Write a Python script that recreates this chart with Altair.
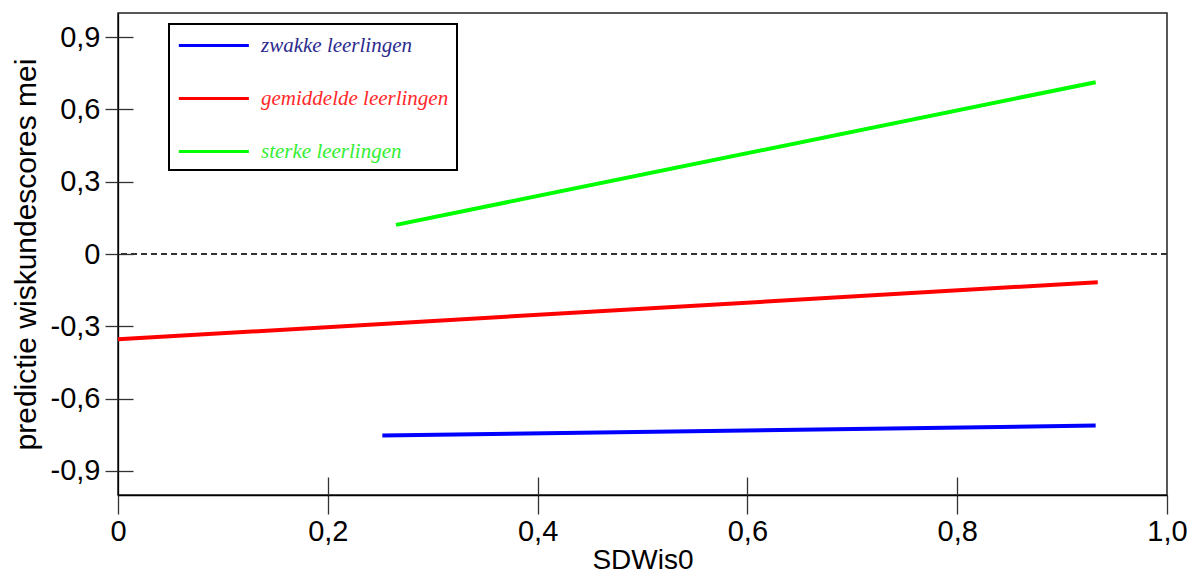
import altair as alt
import pandas as pd

groups = ["zwakke leerlingen", "gemiddelde leerlingen", "sterke leerlingen"]
x_start = [0.252, 0.0, 0.265]
x_end = [0.932, 0.934, 0.932]
y_start = [-0.753, -0.354, 0.121]
y_end = [-0.712, -0.117, 0.713]
line_colors = ["#0000FF", "#FF0000", "#00FF00"]
label_colors = ["#2B2B8F", "#FF2A2A", "#33EE33"]
y_ticks = [-0.9, -0.6, -0.3, 0.0, 0.3, 0.6, 0.9]
x_ticks = [0.0, 0.2, 0.4, 0.6, 0.8, 1.0]
x_inner_ticks = [0.2, 0.4, 0.6, 0.8]

rows = []
for g, xs, xe, ys, ye in zip(groups, x_start, x_end, y_start, y_end):
    rows.append({"groep": g, "SDWis0": xs, "pred": ys})
    rows.append({"groep": g, "SDWis0": xe, "pred": ye})
df = pd.DataFrame(rows)

FONT = "Liberation Sans"
xscale = alt.Scale(domain=[0, 1], nice=False, zero=False)
yscale = alt.Scale(domain=[-1, 1], nice=False, zero=False)

ylab = ("datum.value == 0 ? '0' : "
        "replace(replace(format(datum.value, '.1f'), '.', ','), '\u2212', '-')")
xlab = "datum.value == 0 ? '0' : replace(format(datum.value, '.1f'), '.', ',')"

label_expr = ""
for g, c in zip(groups[:-1], label_colors[:-1]):
    label_expr += f"datum.label === '{g}' ? '{c}' : "
label_expr += f"'{label_colors[-1]}'"

x_main = alt.Axis(values=x_ticks, labelExpr=xlab, tickSize=19, tickColor="#333",
                  tickWidth=1.3, domainColor="#000", domainWidth=1.3, labelFont=FONT,
                  labelFontSize=29, labelColor="#000", labelPadding=3, labelFlush=False,
                  labelOverlap=False, title="SDWis0", titleFont=FONT, titleFontSize=28,
                  titleFontWeight="normal", titleColor="#000", titlePadding=0, grid=False)
y_main = alt.Axis(values=y_ticks, labelExpr=ylab, tickSize=13, tickColor="#333",
                  tickWidth=1.3, domainColor="#000", domainWidth=1.3, labelFont=FONT,
                  labelFontSize=29, labelColor="#000", labelPadding=5, labelFlush=False,
                  labelOverlap=False, title="predictie wiskundescores mei", titleFont=FONT,
                  titleFontSize=30, titleFontWeight="normal", titleColor="#000",
                  titlePadding=9, grid=False)
x_inner = alt.Axis(values=x_inner_ticks, orient="bottom", offset=-18, tickSize=18,
                   tickColor="#333", tickWidth=1.3, labels=False, domain=False,
                   title=None, grid=False)
y_inner = alt.Axis(values=y_ticks, orient="left", offset=-15, tickSize=15,
                   tickColor="#333", tickWidth=1.3, labels=False, domain=False,
                   title=None, grid=False)

lines = alt.Chart(df).mark_line(strokeWidth=4, strokeCap="butt").encode(
    x=alt.X("SDWis0:Q", scale=xscale, axis=x_main),
    y=alt.Y("pred:Q", scale=yscale, axis=y_main),
    color=alt.Color(
        "groep:N",
        scale=alt.Scale(domain=groups, range=line_colors),
        legend=alt.Legend(
            orient="none", legendX=51, legendY=11, title=None,
            symbolType="M-1,0H5", symbolSize=545, symbolStrokeWidth=3,
            labelFont="Liberation Serif", labelFontStyle="italic", labelFontSize=21,
            labelOffset=57, labelLimit=400, rowPadding=29, padding=8,
            strokeColor="#000", fillColor="#fff",
            labelColor=alt.ExprRef(expr=label_expr),
        ),
    ),
)

inner = alt.Chart(df).mark_point(opacity=0).encode(
    x=alt.X("SDWis0:Q", scale=xscale, axis=x_inner),
    y=alt.Y("pred:Q", scale=yscale, axis=y_inner),
)

zero = alt.Chart(df).mark_rule(color="#333", strokeWidth=1.3, strokeDash=[6, 4]).encode(
    y=alt.datum(0, scale=yscale, axis=None),
)

chart = alt.layer(zero, lines, inner).resolve_axis(
    x="independent", y="independent"
).properties(
    width=1049, height=482,
    autosize=alt.AutoSizeParams(type="none"),
    padding={"left": 110, "top": 5, "right": 21, "bottom": 78},
    background="#ffffff",
).configure_view(stroke="#222", strokeWidth=1.5).configure_legend(strokeWidth=2)

chart.save("out.html", embed_options={"renderer": "svg", "actions": False})
